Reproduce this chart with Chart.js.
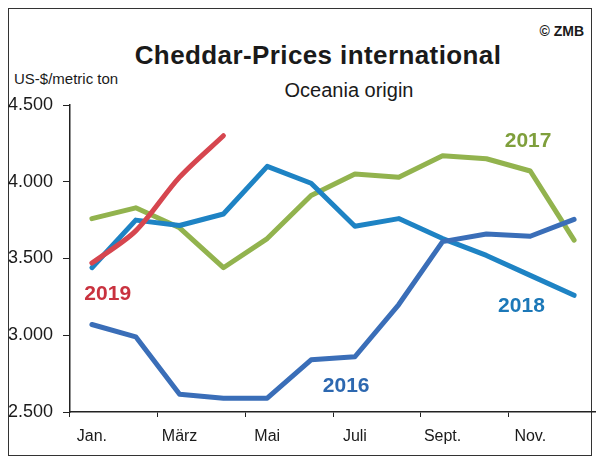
<!DOCTYPE html>
<html lang="de">
<head>
    <meta charset="UTF-8">
    <title>Cheddar-Prices international</title>
    <script src="https://cdn.jsdelivr.net/npm/chart.js"></script>
    <style>
        html, body {
            margin: 0;
            padding: 0;
            background-color: white;
        }
        body {
            width: 596px;
            height: 460px;
            position: relative;
            overflow: hidden;
            font-family: "Liberation Sans", Arial, sans-serif;
            color: #1a1a1a;
        }
        .frame {
            position: absolute;
            left: 8px;
            top: 8px;
            width: 582px;
            height: 446px;
            border: 1.5px solid #333;
        }
        .copy {
            position: absolute;
            right: 12px;
            top: 23px;
            font-size: 14px;
            font-weight: bold;
        }
        .title {
            position: absolute;
            left: 0;
            width: 636px;
            top: 40px;
            text-align: center;
            font-size: 26px;
            font-weight: bold;
            letter-spacing: 0.4px;
        }
        .subtitle {
            position: absolute;
            left: 0;
            width: 698px;
            top: 79px;
            text-align: center;
            font-size: 20px;
        }
        .unit {
            position: absolute;
            left: 14px;
            top: 70px;
            font-size: 15px;
        }
        .chart-container {
            position: absolute;
            left: 0;
            top: 0;
            width: 596px;
            height: 460px;
        }
    </style>
</head>
<body>
    <div class="frame"></div>
    <div class="copy">© ZMB</div>
    <div class="title">Cheddar-Prices international</div>
    <div class="subtitle">Oceania origin</div>
    <div class="unit">US-$/metric ton</div>
    <div class="chart-container">
        <canvas id="myChart"></canvas>
    </div>

    <script>
        // Monate (nur jeder zweite wird beschriftet)
        const months = ['Jan.', 'Feb.', 'März', 'Apr.', 'Mai', 'Juni', 'Juli', 'Aug.', 'Sept.', 'Okt.', 'Nov.', 'Dez.'];

        // Preise in US-$/t
        const prices2016 = [3070, 2990, 2615, 2590, 2590, 2840, 2860, 3200, 3610, 3660, 3645, 3755];
        const prices2017 = [3760, 3830, 3700, 3440, 3630, 3910, 4050, 4030, 4170, 4150, 4070, 3620];
        const prices2018 = [3440, 3750, 3715, 3790, 4100, 3990, 3710, 3760, 3630, 3520, 3390, 3260];
        const prices2019 = [3470, 3680, 4030, 4300];

        const yTicks = [2500, 3000, 3500, 4000, 4500];

        // Beschriftung der Jahreslinien: [Monatsindex, Wert]
        const yearLabels = [
            { text: '2019', color: '#c9323f', at: [0.36, 3270] },
            { text: '2017', color: '#7f9f3c', at: [9.95, 4265] },
            { text: '2018', color: '#1c78b8', at: [9.8, 3190] },
            { text: '2016', color: '#2d68b0', at: [5.8, 2670] }
        ];

        function formatNumber(v) {
            return String(v).replace(/\B(?=(\d{3})+(?!\d))/g, '.');
        }

        const labelPlugin = {
            id: 'yearLabels',
            afterDatasetsDraw(chart) {
                const ctx = chart.ctx;
                const x = chart.scales.x;
                const y = chart.scales.y;
                ctx.save();
                ctx.font = 'bold 21px "Liberation Sans", Arial, sans-serif';
                ctx.textAlign = 'center';
                ctx.textBaseline = 'middle';
                yearLabels.forEach(l => {
                    ctx.fillStyle = l.color;
                    ctx.fillText(l.text, x.getPixelForValue(l.at[0]), y.getPixelForValue(l.at[1]));
                });
                ctx.restore();
            }
        };

        function line(label, data, color, tension) {
            return {
                label: label,
                data: data,
                borderColor: color,
                backgroundColor: color,
                borderWidth: 5,
                pointRadius: 0,
                tension: tension,
                borderJoinStyle: 'round',
                borderCapStyle: 'round',
                fill: false
            };
        }

        const ctx = document.getElementById('myChart').getContext('2d');

        new Chart(ctx, {
            type: 'line',
            data: {
                labels: months,
                datasets: [
                    line('2019', prices2019, '#d6464f', 0.3),
                    line('2016', prices2016, '#3a6eb8', 0),
                    line('2018', prices2018, '#1e83c4', 0),
                    line('2017', prices2017, '#92b34e', 0)
                ]
            },
            options: {
                responsive: true,
                maintainAspectRatio: false,
                animation: false,
                layout: {
                    padding: { left: 8, top: 105, right: 0, bottom: 0 }
                },
                scales: {
                    x: {
                        offset: true,
                        afterFit: scale => { scale.height = 48; },
                        border: { display: true, color: '#222', width: 1.5 },
                        grid: {
                            offset: true,
                            drawOnChartArea: false,
                            drawTicks: true,
                            tickLength: 5,
                            color: c => (c.index % 2 === 0 ? '#222' : 'rgba(0,0,0,0)')
                        },
                        ticks: {
                            autoSkip: false,
                            maxRotation: 0,
                            padding: 10,
                            color: '#1a1a1a',
                            font: { size: 16, family: '"Liberation Sans", Arial, sans-serif' },
                            callback: (v, i) => (i % 2 === 0 ? months[i] : '')
                        }
                    },
                    y: {
                        min: 2500,
                        max: 4500,
                        afterFit: scale => { scale.width = 62; },
                        afterBuildTicks: scale => { scale.ticks = yTicks.map(v => ({ value: v })); },
                        border: { display: true, color: '#222', width: 1.5 },
                        grid: {
                            drawOnChartArea: false,
                            drawTicks: true,
                            tickLength: 7,
                            color: '#222'
                        },
                        ticks: {
                            crossAlign: 'far',
                            padding: 2,
                            color: '#1a1a1a',
                            font: { size: 18, family: '"Liberation Sans", Arial, sans-serif' },
                            callback: v => formatNumber(v)
                        }
                    }
                },
                plugins: {
                    legend: { display: false },
                    tooltip: { enabled: false }
                }
            },
            plugins: [labelPlugin]
        });
    </script>
</body>
</html>
